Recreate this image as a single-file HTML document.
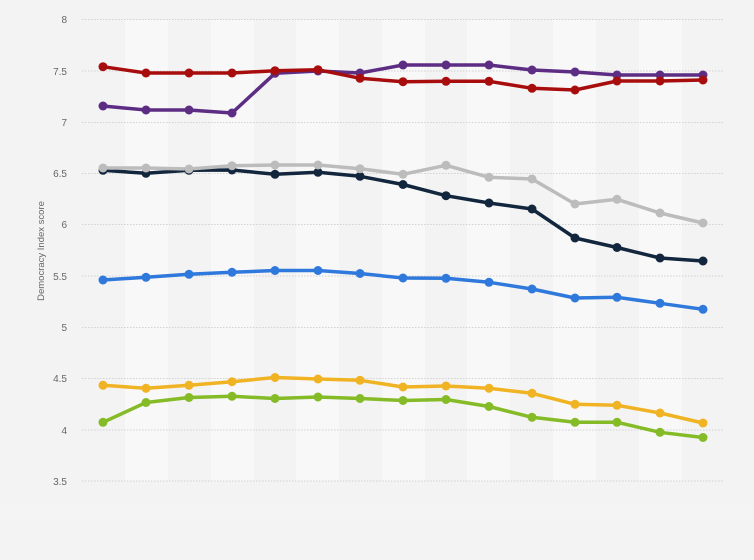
<!DOCTYPE html>
<html><head><meta charset="utf-8"><style>
html,body{margin:0;padding:0;background:#f3f3f3;}
svg{display:block;font-family:"Liberation Sans",Arial,sans-serif;}
</style></head><body>
<svg width="754" height="560" viewBox="0 0 754 560" xmlns="http://www.w3.org/2000/svg">
<rect x="0" y="0" width="754" height="560" fill="#f3f3f3"/>
<line x1="0" y1="512" x2="754" y2="512" stroke="#f6f6f6" stroke-width="1"/>
<g fill="#f8f8f8">
<rect x="125" y="20" width="43" height="461"/>
<rect x="211" y="20" width="43" height="461"/>
<rect x="296" y="20" width="43" height="461"/>
<rect x="382" y="20" width="43" height="461"/>
<rect x="467" y="20" width="43" height="461"/>
<rect x="553" y="20" width="43" height="461"/>
<rect x="639" y="20" width="43" height="461"/>
</g>
<g stroke="#d2d2d2" stroke-width="1" stroke-dasharray="1.5,1.5">
<line x1="82" y1="19.5" x2="724" y2="19.5"/>
<line x1="82" y1="71" x2="724" y2="71"/>
<line x1="82" y1="122.5" x2="724" y2="122.5"/>
<line x1="82" y1="173.5" x2="724" y2="173.5"/>
<line x1="82" y1="224.5" x2="724" y2="224.5"/>
<line x1="82" y1="276" x2="724" y2="276"/>
<line x1="82" y1="327.5" x2="724" y2="327.5"/>
<line x1="82" y1="378.5" x2="724" y2="378.5"/>
<line x1="82" y1="430" x2="724" y2="430"/>
<line x1="82" y1="481" x2="724" y2="481"/>
</g>
<g fill="#666" font-size="10" text-anchor="end">
<text x="67" y="23">8</text>
<text x="67" y="75">7.5</text>
<text x="67" y="126">7</text>
<text x="67" y="177">6.5</text>
<text x="67" y="228">6</text>
<text x="67" y="280">5.5</text>
<text x="67" y="331">5</text>
<text x="67" y="382">4.5</text>
<text x="67" y="434">4</text>
<text x="67" y="485">3.5</text>
</g>
<text x="0" y="0" transform="translate(44,251) rotate(-90)" fill="#666" font-size="9.5" text-anchor="middle">Democracy Index score</text>

<g fill="none" stroke-width="3.5" stroke-linejoin="round" stroke-linecap="round">
<polyline stroke="#84bb26" points="103,422.3 146,402.5 189,397.5 232,396.3 275,398.5 318,397 360,398.5 403,400.5 446,399.5 489,406.5 532,417.3 575,422.3 617,422.3 660,432.3 703,437.5"/>
<polyline stroke="#f0b323" points="103,385.3 146,388.3 189,385.3 232,381.7 275,377.5 318,379 360,380.3 403,387 446,386 489,388.3 532,393.3 575,404.3 617,405.3 660,413 703,423"/>
<polyline stroke="#2f78dc" points="103,280 146,277.3 189,274.3 232,272.3 275,270.5 318,270.5 360,273.5 403,278 446,278.3 489,282.3 532,289 575,298 617,297.3 660,303.3 703,309.3"/>
<polyline stroke="#12263d" points="103,170.3 146,173.3 189,170.3 232,170 275,174.3 318,172.3 360,176.3 403,184.5 446,195.7 489,203 532,209 575,238 617,247.5 660,258 703,261"/>
<polyline stroke="#bcbcbc" points="103,168 146,168 189,169 232,165.7 275,165 318,165 360,168.7 403,174.3 446,165.3 489,177.3 532,179 575,204 617,199.3 660,213 703,223"/>
<polyline stroke="#5d2d84" points="103,106 146,110 189,110 232,113 275,73.3 318,71 360,73 403,65 446,65 489,65 532,70 575,72 617,75 660,75 703,75"/>
<polyline stroke="#a80d0d" points="103,66.7 146,73 189,73 232,73 275,70.7 318,69.7 360,78.3 403,81.7 446,81.3 489,81.3 532,88.3 575,90 617,81 660,81 703,80"/>
</g>
<g>
<g fill="#84bb26">
<circle cx="103" cy="422.3" r="4.5"/><circle cx="146" cy="402.5" r="4.5"/><circle cx="189" cy="397.5" r="4.5"/><circle cx="232" cy="396.3" r="4.5"/><circle cx="275" cy="398.5" r="4.5"/><circle cx="318" cy="397" r="4.5"/><circle cx="360" cy="398.5" r="4.5"/><circle cx="403" cy="400.5" r="4.5"/><circle cx="446" cy="399.5" r="4.5"/><circle cx="489" cy="406.5" r="4.5"/><circle cx="532" cy="417.3" r="4.5"/><circle cx="575" cy="422.3" r="4.5"/><circle cx="617" cy="422.3" r="4.5"/><circle cx="660" cy="432.3" r="4.5"/><circle cx="703" cy="437.5" r="4.5"/>
</g>
<g fill="#f0b323">
<circle cx="103" cy="385.3" r="4.5"/><circle cx="146" cy="388.3" r="4.5"/><circle cx="189" cy="385.3" r="4.5"/><circle cx="232" cy="381.7" r="4.5"/><circle cx="275" cy="377.5" r="4.5"/><circle cx="318" cy="379" r="4.5"/><circle cx="360" cy="380.3" r="4.5"/><circle cx="403" cy="387" r="4.5"/><circle cx="446" cy="386" r="4.5"/><circle cx="489" cy="388.3" r="4.5"/><circle cx="532" cy="393.3" r="4.5"/><circle cx="575" cy="404.3" r="4.5"/><circle cx="617" cy="405.3" r="4.5"/><circle cx="660" cy="413" r="4.5"/><circle cx="703" cy="423" r="4.5"/>
</g>
<g fill="#2f78dc">
<circle cx="103" cy="280" r="4.5"/><circle cx="146" cy="277.3" r="4.5"/><circle cx="189" cy="274.3" r="4.5"/><circle cx="232" cy="272.3" r="4.5"/><circle cx="275" cy="270.5" r="4.5"/><circle cx="318" cy="270.5" r="4.5"/><circle cx="360" cy="273.5" r="4.5"/><circle cx="403" cy="278" r="4.5"/><circle cx="446" cy="278.3" r="4.5"/><circle cx="489" cy="282.3" r="4.5"/><circle cx="532" cy="289" r="4.5"/><circle cx="575" cy="298" r="4.5"/><circle cx="617" cy="297.3" r="4.5"/><circle cx="660" cy="303.3" r="4.5"/><circle cx="703" cy="309.3" r="4.5"/>
</g>
<g fill="#12263d">
<circle cx="103" cy="170.3" r="4.5"/><circle cx="146" cy="173.3" r="4.5"/><circle cx="189" cy="170.3" r="4.5"/><circle cx="232" cy="170" r="4.5"/><circle cx="275" cy="174.3" r="4.5"/><circle cx="318" cy="172.3" r="4.5"/><circle cx="360" cy="176.3" r="4.5"/><circle cx="403" cy="184.5" r="4.5"/><circle cx="446" cy="195.7" r="4.5"/><circle cx="489" cy="203" r="4.5"/><circle cx="532" cy="209" r="4.5"/><circle cx="575" cy="238" r="4.5"/><circle cx="617" cy="247.5" r="4.5"/><circle cx="660" cy="258" r="4.5"/><circle cx="703" cy="261" r="4.5"/>
</g>
<g fill="#bcbcbc">
<circle cx="103" cy="168" r="4.5"/><circle cx="146" cy="168" r="4.5"/><circle cx="189" cy="169" r="4.5"/><circle cx="232" cy="165.7" r="4.5"/><circle cx="275" cy="165" r="4.5"/><circle cx="318" cy="165" r="4.5"/><circle cx="360" cy="168.7" r="4.5"/><circle cx="403" cy="174.3" r="4.5"/><circle cx="446" cy="165.3" r="4.5"/><circle cx="489" cy="177.3" r="4.5"/><circle cx="532" cy="179" r="4.5"/><circle cx="575" cy="204" r="4.5"/><circle cx="617" cy="199.3" r="4.5"/><circle cx="660" cy="213" r="4.5"/><circle cx="703" cy="223" r="4.5"/>
</g>
<g fill="#5d2d84">
<circle cx="103" cy="106" r="4.5"/><circle cx="146" cy="110" r="4.5"/><circle cx="189" cy="110" r="4.5"/><circle cx="232" cy="113" r="4.5"/><circle cx="275" cy="73.3" r="4.5"/><circle cx="318" cy="71" r="4.5"/><circle cx="360" cy="73" r="4.5"/><circle cx="403" cy="65" r="4.5"/><circle cx="446" cy="65" r="4.5"/><circle cx="489" cy="65" r="4.5"/><circle cx="532" cy="70" r="4.5"/><circle cx="575" cy="72" r="4.5"/><circle cx="617" cy="75" r="4.5"/><circle cx="660" cy="75" r="4.5"/><circle cx="703" cy="75" r="4.5"/>
</g>
<g fill="#a80d0d">
<circle cx="103" cy="66.7" r="4.5"/><circle cx="146" cy="73" r="4.5"/><circle cx="189" cy="73" r="4.5"/><circle cx="232" cy="73" r="4.5"/><circle cx="275" cy="70.7" r="4.5"/><circle cx="318" cy="69.7" r="4.5"/><circle cx="360" cy="78.3" r="4.5"/><circle cx="403" cy="81.7" r="4.5"/><circle cx="446" cy="81.3" r="4.5"/><circle cx="489" cy="81.3" r="4.5"/><circle cx="532" cy="88.3" r="4.5"/><circle cx="575" cy="90" r="4.5"/><circle cx="617" cy="81" r="4.5"/><circle cx="660" cy="81" r="4.5"/><circle cx="703" cy="80" r="4.5"/>
</g>
</g>
</svg>
</body></html>
